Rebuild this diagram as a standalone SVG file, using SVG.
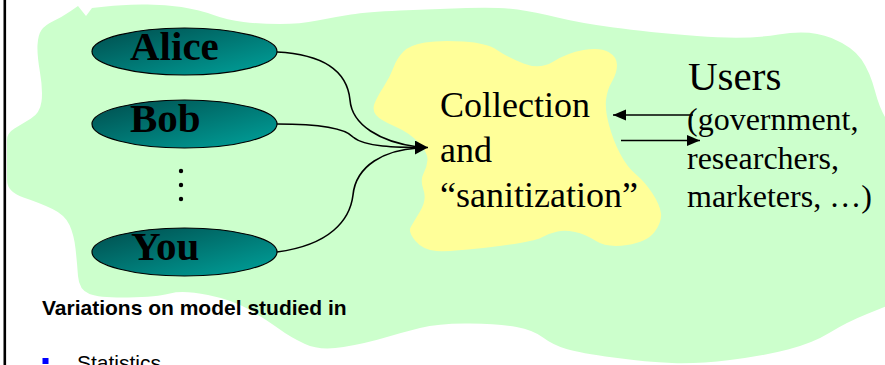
<svg xmlns="http://www.w3.org/2000/svg" width="885" height="365" viewBox="0 0 885 365">
  <defs>
    <linearGradient id="tealFill" x1="0" y1="0" x2="1" y2="1">
      <stop offset="0" stop-color="#004c4c"/>
      <stop offset="1" stop-color="#00a39c"/>
    </linearGradient>
    <marker id="headBig" markerUnits="userSpaceOnUse" markerWidth="14" markerHeight="15" refX="13" refY="7" orient="auto">
      <path d="M0,0 L13,7 L0,14 z" fill="#000"/>
    </marker>
    <marker id="headSmall" markerUnits="userSpaceOnUse" markerWidth="14" markerHeight="12" refX="13" refY="5.5" orient="auto">
      <path d="M0,0 L13,5.5 L0,11 z" fill="#000"/>
    </marker>
    <style>
      .person { fill: url(#tealFill); stroke: #000; stroke-width: 1.2; }
      .name { font-family: "Liberation Serif", "Times New Roman", serif; font-weight: bold; font-size: 41px; fill: #000; }
      .serif { font-family: "Liberation Serif", "Times New Roman", serif; fill: #000; }
      .sans { font-family: "Liberation Sans", Arial, sans-serif; fill: #000; }
      .wire { fill: none; stroke: #000; stroke-width: 1.6; }
      .dot { fill: #000; }
    </style>
  </defs>

  <!-- page margin rule -->
  <rect x="3.5" y="0" width="2.6" height="365" fill="#000"/>

  <!-- green backdrop cloud -->
  <path id="cloud" fill="#ccffcc" d="M 92,8 L 106,6.5 Q 120,5 141.5,4.5 Q 163,4 181.5,7 Q 200,10 213.5,15 Q 227,20 243.5,22 Q 260,24 280,24 Q 300,24 317.5,20.5 Q 335,17 351,14.5 Q 367,12 400,10.5 Q 433,9 466.5,8 Q 500,7 517.5,9.5 Q 535,12 557.5,17.5 Q 580,23 613.5,27.5 Q 647,32 697,36 Q 747,40 778.5,34.5 Q 810,29 831.5,38 Q 853,47 861.5,59.5 Q 870,72 875,91 Q 880,110 887,120 L 887,306 L 867,314 Q 847,322 830,332.5 Q 813,343 788,349.5 Q 763,356 730,360 Q 697,364 672,363 Q 647,362 613.5,357.5 Q 580,353 566.5,349 Q 553,345 543,337.5 Q 533,330 516.5,327 Q 500,324 470,323.5 Q 440,323 420,328 Q 400,333 383.5,338 Q 367,343 343.5,347 Q 320,351 305,344 Q 290,337 278.5,328.5 Q 267,320 250,310 Q 233,300 208,295 Q 183,290 170,293.5 Q 157,297 128.5,297.5 Q 100,298 89.5,294 Q 79,290 78,276 Q 77,262 75.5,248.5 Q 74,235 69.5,225 Q 65,215 52.5,209 Q 40,203 23.5,197.5 Q 7,192 7,180 L 7,140 Q 7,133 14.5,128.5 Q 22,124 31,118.5 Q 40,113 41.5,101.5 Q 43,90 40,72.5 Q 37,55 37.5,45 Q 38,35 41.5,30 Q 45,25 53.5,21 Q 62,17 70,11.5 L 78,6 L 86,16 L 92,8 Z"/>

  <!-- yellow collection area -->
  <g id="collection">
    <path fill="#ffff99" d="M 393.5,67.5 Q 397,58 403.5,51.5 Q 410,45 425,42.5 Q 440,40 463.5,41.5 Q 487,43 497,50 Q 507,57 523.5,63.5 Q 540,70 553.5,61.5 Q 567,53 583.5,50 Q 600,47 608.5,52 Q 617,57 617,65 Q 617,73 612,81.5 Q 607,90 606,100 Q 605,110 609,125 Q 613,140 620,153.5 Q 627,167 636,174.5 Q 645,182 652.5,193.5 Q 660,205 661,213.5 Q 662,222 654.5,232 Q 647,242 627,245 Q 607,248 596,241 Q 585,234 575,232 Q 565,230 557.5,231.5 Q 550,233 541.5,237.5 Q 533,242 491.5,247 Q 450,252 436.5,251 Q 423,250 415.5,241 Q 408,232 410.5,227.5 Q 413,223 420,211.5 Q 427,200 423.5,190 Q 420,180 423.5,173.5 Q 427,167 427.5,160 Q 428,153 419,143 Q 410,133 395,126.5 Q 380,120 376,115 Q 372,110 374.5,103.5 Q 377,97 383.5,87 Q 390,77 393.5,67.5 Z"/>
    <text class="serif" font-size="36" x="440" y="117">Collection</text>
    <text class="serif" font-size="36" x="440" y="162">and</text>
    <text class="serif" font-size="36" x="440" y="207">“sanitization”</text>
  </g>

  <!-- data contributors -->
  <g id="alice">
    <ellipse class="person" cx="184.5" cy="51.5" rx="92.5" ry="23.5"/>
    <text class="name" x="130" y="60">Alice</text>
  </g>
  <g id="bob">
    <ellipse class="person" cx="184.5" cy="124" rx="92.5" ry="24"/>
    <text class="name" x="130" y="132">Bob</text>
  </g>
  <g id="ellipsis">
    <circle class="dot" cx="181" cy="171" r="2.2"/>
    <circle class="dot" cx="181" cy="185" r="2.2"/>
    <circle class="dot" cx="181" cy="199" r="2.2"/>
  </g>
  <g id="you">
    <ellipse class="person" cx="184.5" cy="252" rx="92.5" ry="24"/>
    <text class="name" x="131" y="260">You</text>
  </g>

  <!-- consumers of the released data -->
  <g id="users">
    <text class="serif" font-size="41" x="688" y="90">Users</text>
    <text class="serif" font-size="32" x="687" y="130">(government,</text>
    <text class="serif" font-size="32" x="687" y="168.5">researchers,</text>
    <text class="serif" font-size="32" x="687" y="207">marketers, …)</text>
  </g>

  <!-- connectors -->
  <g id="connectors">
    <path class="wire" d="M 277,52 C 335,55 348,80 350,100 C 352,125 380,142 418,147"/>
    <path class="wire" d="M 277,124 C 320,124 345,128 353,137 C 365,147 395,147.5 428,147.5" marker-end="url(#headBig)"/>
    <path class="wire" d="M 277,252 C 330,245 350,220 353,195 C 356,165 385,150 418,148"/>
    <path class="wire" d="M 693,115 L 613,115" marker-end="url(#headSmall)"/>
    <path class="wire" d="M 621,140.5 L 700,140.5" marker-end="url(#headSmall)"/>
  </g>

  <!-- notes below the figure -->
  <g id="notes">
    <text class="sans" font-size="21" font-weight="bold" x="42" y="315">Variations on model studied in</text>
    <rect x="42.5" y="358" width="6" height="6" fill="#0000ff"/>
    <text class="sans" font-size="21" x="77" y="370">Statistics</text>
  </g>
</svg>
